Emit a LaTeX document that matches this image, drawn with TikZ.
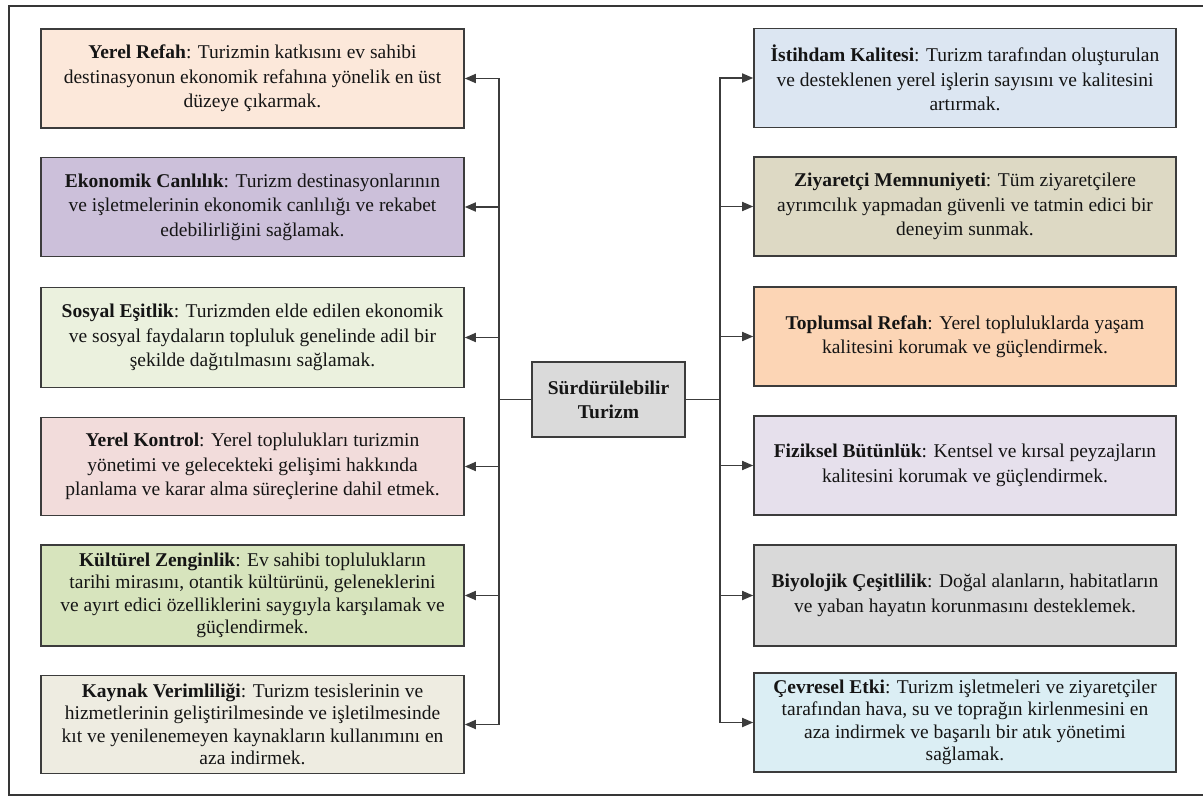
\documentclass[tikz,border=0pt]{standalone}
\usepackage{fontspec}
\setmainfont{Liberation Serif}
\usetikzlibrary{arrows.meta}
\definecolor{cLa}{HTML}{FCE8DA}
\definecolor{cLb}{HTML}{CCC0DA}
\definecolor{cLc}{HTML}{EBF1DE}
\definecolor{cLd}{HTML}{F2DCDB}
\definecolor{cLe}{HTML}{D7E4BD}
\definecolor{cLf}{HTML}{EEECE1}
\definecolor{cRa}{HTML}{DCE6F2}
\definecolor{cRb}{HTML}{DDD9C4}
\definecolor{cRc}{HTML}{FCD5B5}
\definecolor{cRd}{HTML}{E6E0EC}
\definecolor{cRe}{HTML}{D9D9D9}
\definecolor{cRf}{HTML}{DBEEF4}
\definecolor{cCen}{HTML}{DADADA}
\definecolor{edge}{HTML}{3C3C3C}
\definecolor{ink}{HTML}{151515}
\begin{document}
\begin{tikzpicture}[x=1pt,y=-1pt,
  infobox/.style={draw=edge, line width=1.6pt, rectangle, align=center,
    minimum width=423pt, minimum height=99pt, inner sep=0pt, text=ink,
    font=\fontsize{19.5}{24.5}\selectfont},
  fourline/.style={font=\fontsize{19.5}{22.5}\selectfont},
  centerbox/.style={draw=edge, line width=1.6pt, rectangle, align=center,
    minimum width=153pt, minimum height=75pt, inner sep=0pt, text=ink, fill=cCen,
    font=\fontsize{19.5}{24}\selectfont\bfseries},
  link/.style={draw=edge, line width=1.7pt},
  arr/.style={link, -{Triangle[length=11pt,width=9pt]}}
]
\useasboundingbox (0,0) rectangle (1203,797);
\draw[line width=2pt, draw=edge!90!black] (1215,6) -- (9,6) -- (9,795) -- (1215,795);

% left boxes
\node[infobox, fill=cLa] (L1) at (252.5,78.5) {\textbf{Yerel Refah}: Turizmin katkısını ev sahibi\\destinasyonun ekonomik refahına yönelik en üst\\düzeye çıkarmak.};
\node[infobox, fill=cLb] (L2) at (252.5,207) {\textbf{Ekonomik Canlılık}: Turizm destinasyonlarının\\ve işletmelerinin ekonomik canlılığı ve rekabet\\edebilirliğini sağlamak.};
\node[infobox, fill=cLc, minimum height=100pt] (L3) at (252.5,337.5) {\textbf{Sosyal Eşitlik}: Turizmden elde edilen ekonomik\\ve sosyal faydaların topluluk genelinde adil bir\\şekilde dağıtılmasını sağlamak.};
\node[infobox, fill=cLd, minimum height=98pt] (L4) at (252.5,466.5) {\textbf{Yerel Kontrol}: Yerel toplulukları turizmin\\yönetimi ve gelecekteki gelişimi hakkında\\planlama ve karar alma süreçlerine dahil etmek.};
\node[infobox, fourline, fill=cLe, minimum height=101pt] (L5) at (252.5,595.5) {\textbf{Kültürel Zenginlik}: Ev sahibi toplulukların\\tarihi mirasını, otantik kültürünü, geleneklerini\\ve ayırt edici özelliklerini saygıyla karşılamak ve\\güçlendirmek.};
\node[infobox, fourline, fill=cLf, minimum height=98pt] (L6) at (252.5,724.5) {\textbf{Kaynak Verimliliği}: Turizm tesislerinin ve\\hizmetlerinin geliştirilmesinde ve işletilmesinde\\kıt ve yenilenemeyen kaynakların kullanımını en\\aza indirmek.};

% right boxes
\node[infobox, fill=cRa, minimum width=422pt] (R1) at (965,78) {\textbf{İstihdam Kalitesi}: Turizm tarafından oluşturulan\\ve desteklenen yerel işlerin sayısını ve kalitesini\\artırmak.};
\node[infobox, fill=cRb, minimum width=422pt] (R2) at (965,206.5) {\textbf{Ziyaretçi Memnuniyeti}: Tüm ziyaretçilere\\ayrımcılık yapmadan güvenli ve tatmin edici bir\\deneyim sunmak.};
\node[infobox, fill=cRc, minimum width=422pt] (R3) at (965,336.5) {\textbf{Toplumsal Refah}: Yerel topluluklarda yaşam\\kalitesini korumak ve güçlendirmek.};
\node[infobox, fill=cRd, minimum width=422pt] (R4) at (965,465.5) {\textbf{Fiziksel Bütünlük}: Kentsel ve kırsal peyzajların\\kalitesini korumak ve güçlendirmek.};
\node[infobox, fill=cRe, minimum width=422pt, minimum height=101pt] (R5) at (965,595.5) {\textbf{Biyolojik Çeşitlilik}: Doğal alanların, habitatların\\ve yaban hayatın korunmasını desteklemek.};
\node[infobox, fourline, fill=cRf, minimum width=422pt] (R6) at (965,722.5) {\textbf{Çevresel Etki}: Turizm işletmeleri ve ziyaretçiler\\tarafından hava, su ve toprağın kirlenmesini en\\aza indirmek ve başarılı bir atık yönetimi\\sağlamak.};

% center
\node[centerbox] (C) at (608.5,399.5) {Sürdürülebilir\\Turizm};

\coordinate (lb) at (499,399.5);
\coordinate (rb) at (720,399.5);
\draw[link] (C.west) -- (lb);
\draw[link] (C.east) -- (rb);
\foreach \n in {L1,L2,L3,L4,L5,L6} \draw[arr] (lb) |- (\n.east);
\foreach \n in {R1,R2,R3,R4,R5,R6} \draw[arr] (rb) |- (\n.west);
\end{tikzpicture}
\end{document}
